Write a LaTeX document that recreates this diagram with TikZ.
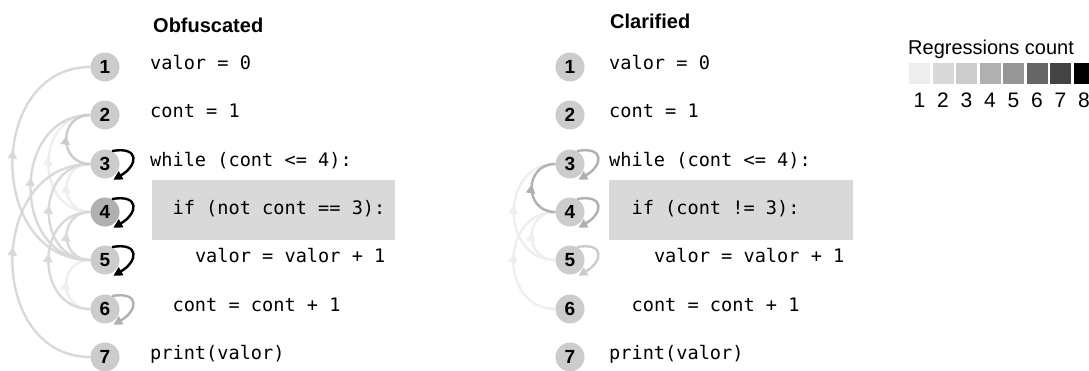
\documentclass[tikz,border=0pt]{standalone}
\usepackage{fontspec}
\setmainfont{Liberation Sans}
\setmonofont{DejaVu Sans Mono}
\usepackage{xcolor}
\usetikzlibrary{arrows.meta, decorations.markings, backgrounds}

\definecolor{rc1}{HTML}{EEEEEE}
\definecolor{rc2}{HTML}{D9D9D9}
\definecolor{rc3}{HTML}{CCCCCC}
\definecolor{rc4}{HTML}{B0B0B0}
\definecolor{rc5}{HTML}{969696}
\definecolor{rc6}{HTML}{666666}
\definecolor{rc7}{HTML}{444444}
\definecolor{rc8}{HTML}{000000}

\begin{document}
\begin{tikzpicture}[x=1pt, y=1pt, >={Triangle[length=9pt, width=9pt]}]
		\tikzstyle{numdot} = [circle, fill=rc3, minimum size=29pt, inner sep=0pt, font=\fontsize{19}{19}\selectfont\bfseries]
		\tikzstyle{codeline} = [anchor=base west, inner sep=0pt, font=\fontsize{18.6}{20}\selectfont\ttfamily]
		\tikzstyle{title} = [anchor=base west, inner sep=0pt, font=\fontsize{20}{20}\selectfont\bfseries]
		\tikzstyle{regarc} = [line width=2.4pt, out=180, in=180, postaction={decorate}, decoration={markings, mark=at position 0.55 with {\arrow{>}}}]
		\tikzstyle{selfloop} = [->, line width=2.4pt, out=10, in=30, looseness=2.55]
		\tikzstyle{swatch} = [minimum width=21pt, minimum height=21pt, inner sep=0pt]
		\tikzstyle{swnum} = [anchor=base, inner sep=0pt, font=\fontsize{21}{21}\selectfont]
		
		\useasboundingbox (0,0) rectangle (1089,-370);
		
		\node[title] at (153, -32) (obtitle) {Obfuscated};
		\node[title] at (610, -28) (cltitle) {Clarified};
		
		% obfuscated
		\node[numdot] 		at (105, -67) 	(ob1) 	{1};
		\node[numdot] 		at (105, -115) 	(ob2) 	{2};
		\node[numdot] 		at (105, -164) 	(ob3) 	{3};
		\node[numdot, fill=rc4] at (105, -212) (ob4) 	{4};
		\node[numdot] 		at (105, -260) 	(ob5) 	{5};
		\node[numdot] 		at (105, -309) 	(ob6) 	{6};
		\node[numdot] 		at (105, -357) 	(ob7) 	{7};
		
		\node[codeline] at (150, -69) 	(obcode1) {valor = 0};
		\node[codeline] at (150, -117) 	(obcode2) {cont = 1};
		\node[codeline] at (150, -166) 	(obcode3) {while (cont <= 4):};
		\node[codeline] at (172.4, -214) (obcode4) {if (not cont == 3):};
		\node[codeline] at (194.8, -262) (obcode5) {valor = valor + 1};
		\node[codeline] at (172.4, -311) (obcode6) {cont = cont + 1};
		\node[codeline] at (150, -359) 	(obcode7) {print(valor)};
		
		% clarified
		\node[numdot] 	at (570, -67) 	(cl1) 	{1};
		\node[numdot] 	at (570, -115) 	(cl2) 	{2};
		\node[numdot] 	at (570, -164) 	(cl3) 	{3};
		\node[numdot] 	at (570, -212) 	(cl4) 	{4};
		\node[numdot] 	at (570, -260) 	(cl5) 	{5};
		\node[numdot] 	at (570, -309) 	(cl6) 	{6};
		\node[numdot] 	at (570, -357) 	(cl7) 	{7};
		
		\node[codeline] at (609, -69) 	(clcode1) {valor = 0};
		\node[codeline] at (609, -117) 	(clcode2) {cont = 1};
		\node[codeline] at (609, -166) 	(clcode3) {while (cont <= 4):};
		\node[codeline] at (631.4, -214) (clcode4) {if (cont != 3):};
		\node[codeline] at (653.8, -262) (clcode5) {valor = valor + 1};
		\node[codeline] at (631.4, -311) (clcode6) {cont = cont + 1};
		\node[codeline] at (609, -359) 	(clcode7) {print(valor)};
		
		\begin{pgfonlayer}{background}
		% highlighted lines
		\fill[rc2] (152,-180) rectangle (395,-240);
		\fill[rc2] (609,-180) rectangle (853,-240);
		
		% regressions
		\path
		(ob4)	edge[regarc, rc1, looseness=1.69]	(ob3)
		(ob4)	edge[regarc, rc1, looseness=1.48]	(ob2)
		(ob6)	edge[regarc, rc1, looseness=1.69]	(ob5)
		(ob5)	edge[regarc, rc2, looseness=1.69]	(ob4)
		(ob5)	edge[regarc, rc2, looseness=1.48]	(ob3)
		(ob5)	edge[regarc, rc2, looseness=1.41]	(ob2)
		(ob5)	edge[regarc, rc2, looseness=1.38]	(ob1)
		(ob6)	edge[regarc, rc2, looseness=1.48]	(ob4)
		(ob7)	edge[regarc, rc2, looseness=1.38]	(ob3)
		(ob3)	edge[regarc, rc3, looseness=1.69]	(ob2);
		
		\path
		(cl5)	edge[regarc, rc1, looseness=1.69]	(cl4)
		(cl5)	edge[regarc, rc1, looseness=1.48]	(cl3)
		(cl6)	edge[regarc, rc1, looseness=1.48]	(cl4)
		(cl4)	edge[regarc, rc4, looseness=1.69]	(cl3);
		\end{pgfonlayer}
		
		% self regressions
		\path
		(ob3.62)	edge[selfloop, rc8]	([shift={(1,-3)}]ob3.-60)
		(ob4.62)	edge[selfloop, rc8]	([shift={(1,-3)}]ob4.-60)
		(ob5.62)	edge[selfloop, rc8]	([shift={(1,-3)}]ob5.-60)
		(ob6.62)	edge[selfloop, rc4]	([shift={(1,-3)}]ob6.-60);
		
		\path
		(cl3.62)	edge[selfloop, rc4]	([shift={(1,-3)}]cl3.-60)
		(cl4.62)	edge[selfloop, rc4]	([shift={(1,-3)}]cl4.-60)
		(cl5.62)	edge[selfloop, rc3]	([shift={(1,-3)}]cl5.-60);
		
		% legend
		\node[anchor=base west, inner sep=0pt, font=\fontsize{20}{20}\selectfont] at (908, -54) (legtitle) {Regressions count};
		\node[swatch, fill=rc1] at (919.5, -73.5) 	(sw1) {};
		\node[swatch, fill=rc2] at (943, -73.5) 	(sw2) {};
		\node[swatch, fill=rc3] at (966.5, -73.5) 	(sw3) {};
		\node[swatch, fill=rc4] at (990, -73.5) 	(sw4) {};
		\node[swatch, fill=rc5] at (1013.5, -73.5) 	(sw5) {};
		\node[swatch, fill=rc6] at (1037, -73.5) 	(sw6) {};
		\node[swatch, fill=rc7] at (1060.5, -73.5) 	(sw7) {};
		\node[swatch, fill=rc8] at (1084, -73.5) 	(sw8) {};
		\node[swnum] at (919.5, -107) 	{1};
		\node[swnum] at (943, -107) 	{2};
		\node[swnum] at (966.5, -107) 	{3};
		\node[swnum] at (990, -107) 	{4};
		\node[swnum] at (1013.5, -107) 	{5};
		\node[swnum] at (1037, -107) 	{6};
		\node[swnum] at (1060.5, -107) 	{7};
		\node[swnum] at (1084, -107) 	{8};
\end{tikzpicture}
\end{document}
